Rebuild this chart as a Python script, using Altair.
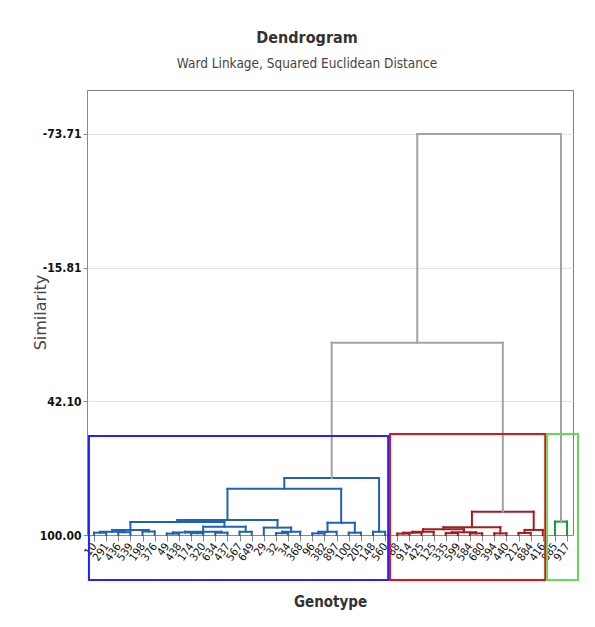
import altair as alt
import pandas as pd

# ---------------- data ----------------
leaves = ["10", "291", "436", "539", "198", "376", "49", "438", "174", "320",
          "634", "437", "567", "649", "29", "32", "34", "368", "96", "382",
          "897", "100", "205", "148", "560",
          "88", "914", "425", "125", "335", "599", "584", "680", "394", "440",
          "212", "884", "416",
          "885", "917"]
leaf_cluster = ["blue"] * 25 + ["red"] * 13 + ["green"] * 2

# merges (children: leaf label or "m<k>"), similarity level of the join
merge_left = ["10", "436", "m0", "198", "m2", "49", "174", "m5", "634", "m7",
              "567", "m9", "m4", "32", "m13", "29", "m12", "96", "m17", "100",
              "m18", "m16", "148", "m21",
              "88", "m24", "m25", "335", "584", "m27", "m26", "394", "m30",
              "212", "m33", "m32",
              "885",
              "m23", "m37"]
merge_right = ["291", "539", "m1", "376", "m3", "438", "320", "m6", "437", "m8",
               "649", "m10", "m11", "34", "368", "m14", "m15", "382", "897", "205",
               "m19", "m20", "560", "m22",
               "914", "425", "125", "599", "680", "m28", "m29", "440", "m31",
               "884", "416", "m34",
               "917",
               "m35", "m36"]
merge_sim = [99.0, 98.8, 98.6, 98.5, 97.8, 99.4, 99.2, 98.9, 99.0, 98.55,
             98.6, 96.4, 94.4, 99.2, 98.6, 96.8, 93.5, 99.3, 98.6, 99.0,
             94.7, 80.0, 98.6, 75.3,
             99.4, 99.0, 98.6, 99.2, 99.3, 98.8, 97.5, 99.3, 96.6,
             99.1, 97.8, 89.9,
             94.2,
             16.7, -73.71]

y_ticks = [-73.71, -15.81, 42.10, 100.00]

# cluster boxes (leaf-index units / similarity units)
box_cluster = ["blue", "red", "green"]
box_left = [-0.42, 24.4, 37.35]
box_right = [24.25, 37.2, 39.9]
box_top = [57.1, 56.3, 56.3]
box_bottom = [119.5, 119.5, 119.5]

# ---------------- build dendrogram segments ----------------
pos = {}
height = {}
members = {}
for i, lab in enumerate(leaves):
    pos[lab] = float(i)
    height[lab] = 100.0
    members[lab] = {leaf_cluster[i]}

rows = []
for k, (a, b, h) in enumerate(zip(merge_left, merge_right, merge_sim)):
    name = f"m{k}"
    xa, xb = pos[a], pos[b]
    mem = members[a] | members[b]
    col = list(mem)[0] if len(mem) == 1 else "gray"
    rows.append(dict(x=xa, x2=xb, y=h, y2=h, c=col))
    rows.append(dict(x=xa, x2=xa, y=h, y2=height[a], c=col))
    rows.append(dict(x=xb, x2=xb, y=h, y2=height[b], c=col))
    pos[name] = (xa + xb) / 2
    height[name] = h
    members[name] = mem

seg = pd.DataFrame(rows)
boxes = pd.DataFrame(dict(c=box_cluster, x=box_left, x2=box_right,
                          y=box_top, y2=box_bottom))

FONT = "Liberation Sans Narrow, DejaVu Sans Condensed, Roboto"

xscale = alt.Scale(domain=[-0.58, 39.49], nice=False, zero=False)
yscale = alt.Scale(domain=[-92.77, 100], reverse=True, nice=False, zero=False)

labels_js = "[" + ",".join(f"'{l}'" for l in leaves) + "]"

xaxis = alt.Axis(values=list(range(len(leaves))),
                 labelExpr=f"{labels_js}[datum.value]",
                 labelAngle=-55, labelAlign="right",
                 labelBaseline="middle", labelPadding=3,
                 labelFontSize=11, labelColor="#111", labelFont=FONT,
                 tickSize=6, tickColor="#8a8a8a",
                 domainColor="#8a8a8a", grid=False,
                 title="Genotype", titleFont=FONT, titleFontSize=15,
                 titleColor="#333", titleFontWeight="bold",
                 titleY=66, titleBaseline="middle", labelOverlap=False)
yaxis = alt.Axis(values=y_ticks,
                 labelExpr="replace(format(datum.value, '.2f'), '\u2212', '-')",
                 grid=True,
                 gridColor="#e4e4e4", tickSize=4, tickColor="#8a8a8a",
                 domainColor="#8a8a8a", labelFontSize=12,
                 labelFontWeight="bold",
                 labelColor="#111", labelFont=FONT, labelPadding=2,
                 title="Similarity", titleFont="DejaVu Sans",
                 titleFontSize=16, titleColor="#444",
                 titleFontWeight="normal",
                 titleX=-47, titleY=222, titleAngle=-90,
                 titleAlign="center", titleBaseline="middle")

line_colors = alt.Scale(domain=["blue", "red", "green", "gray"],
                        range=["#1F63B5", "#A41C1F", "#159A3A", "#A3A3A3"])
box_colors = alt.Scale(domain=["blue", "red", "green"],
                       range=["#2323FF", "#E3121C", "#63DB55"])

lines = alt.Chart(seg).mark_rule(strokeWidth=2, strokeCap="square").encode(
    x=alt.X("x:Q", scale=xscale, axis=xaxis),
    x2="x2:Q",
    y=alt.Y("y:Q", scale=yscale, axis=yaxis),
    y2="y2:Q",
    color=alt.Color("c:N", scale=line_colors, legend=None),
)

rects = alt.Chart(boxes).mark_rect(filled=False, strokeWidth=2).encode(
    x=alt.X("x:Q", scale=xscale, axis=xaxis),
    x2="x2:Q",
    y=alt.Y("y:Q", scale=yscale, axis=yaxis),
    y2="y2:Q",
    stroke=alt.Stroke("c:N", scale=box_colors, legend=None),
)

chart = alt.layer(lines, rects).resolve_scale(
    color="independent", stroke="independent").properties(
    width=486, height=445,
    autosize=alt.AutoSizeParams(type="none"),
    padding={"left": 79, "top": 82, "right": 14, "bottom": 80},
    title=alt.TitleParams(
        text="Dendrogram",
        subtitle="Ward Linkage, Squared Euclidean Distance",
        font=FONT, fontSize=16, fontWeight="bold", color="#333",
        subtitleFont=FONT, subtitleFontSize=13.5, subtitleColor="#444",
        subtitlePadding=11, anchor="middle", frame="group", dx=-23, offset=20,
    ),
).configure_view(stroke="#7f7f7f", strokeWidth=1)

chart.save("out.html", embed_options={"renderer": "svg", "actions": False})
